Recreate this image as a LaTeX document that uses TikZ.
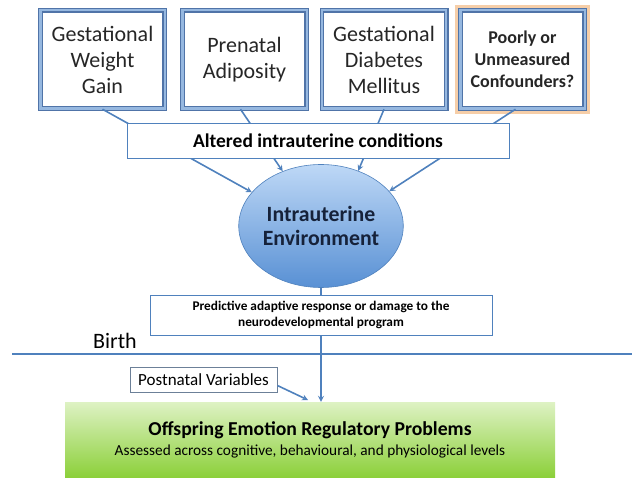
\documentclass[tikz,border=0pt]{standalone}
\usepackage{fontspec}
\setmainfont{Carlito}
\usetikzlibrary{shapes, shapes.geometric, arrows, positioning}

\definecolor{lineblue}{RGB}{79,129,189}
\definecolor{frameblue}{RGB}{80,116,168}
\definecolor{frameinner}{RGB}{150,184,224}
\definecolor{glow}{RGB}{246,206,168}
\definecolor{navy}{RGB}{22,34,58}
\definecolor{greentop}{RGB}{222,242,196}
\definecolor{greenbot}{RGB}{140,208,58}
\definecolor{balltop}{RGB}{190,216,246}
\definecolor{ballbot}{RGB}{88,144,212}

\begin{document}
\begin{tikzpicture}[x=1pt, y=-1pt,
  factor/.style={rectangle, draw=frameblue, double=frameinner, double distance=2.4pt,
    line width=1.1pt, fill=white, minimum width=124.4pt, minimum height=98.4pt,
    align=center, text=black!85, font=\fontsize{22}{26}\selectfont},
  glowing/.style={preaction={draw=glow, line width=10pt}},
  bar/.style={rectangle, draw=lineblue, line width=0.8pt, fill=white, align=center,
    inner sep=2pt},
  env/.style={ellipse, draw=lineblue, line width=0.6pt, top color=balltop,
    bottom color=ballbot, minimum width=158pt, minimum height=123pt, inner sep=0pt,
    align=center, text=navy, font=\bfseries\fontsize{21.8}{24}\selectfont},
  outcome/.style={rectangle, top color=greentop, bottom color=greenbot,
    minimum width=490pt, minimum height=75pt, align=center},
  link/.style={draw=lineblue, line width=1.6pt, -stealth}]

  \useasboundingbox (0,0) rectangle (632,478);

  % the four factors
  \node[factor] (gwg) at (102.5,59.5) {Gestational\\Weight\\Gain};
  \node[factor] (pa) at (244.5,59.5) {Prenatal\\Adiposity};
  \node[factor] (gdm) at (384,59.5) {Gestational\\Diabetes\\Mellitus};
  \node[factor, glowing, font=\bfseries\fontsize{18}{22}\selectfont] (puc) at (522.5,59.5)
    {Poorly or\\Unmeasured\\Confounders?};

  \node[env] (env) at (321,226) {Intrauterine\\Environment};

  \draw[link] (gwg.south) -- (env.154);
  \draw[link] ([xshift=-4pt]pa.south) -- (env.125);
  \draw[link] (gdm.south) -- (env.56);
  \draw[link] ([xshift=-7pt]puc.south) -- (env.27);

  \node[bar, minimum width=382pt, minimum height=35pt,
    font=\bfseries\fontsize{19.5}{22}\selectfont] (alt) at (318,140.5)
    {Altered intrauterine conditions};

  \node[bar, minimum width=342pt, minimum height=40pt,
    font=\bfseries\fontsize{13.3}{16}\selectfont] (pred) at (321,315)
    {Predictive adaptive response or damage to the\\neurodevelopmental program};
  \draw[draw=lineblue, line width=1.4pt] (env.south) -- (pred.north);

  % birth
  \node[font=\fontsize{22}{22}\selectfont] (birth) at (115,341) {Birth};
  \coordinate (bl) at (12,354);
  \coordinate (br) at (632,354);
  \draw[draw=lineblue, line width=1.6pt] (bl) -- (br);

  \node[outcome, font=\fontsize{15.3}{20}\selectfont] (offs) at (310,439.5)
    {{\bfseries\fontsize{19.7}{20}\selectfont Offspring Emotion Regulatory Problems}\\
     Assessed across cognitive, behavioural, and physiological levels};

  \node[bar, draw=gray!60!lineblue, minimum width=147pt, minimum height=25pt,
    font=\fontsize{17}{18}\selectfont] (post) at (203.5,379.5) {Postnatal Variables};

  \draw[link] (pred.south) -- (pred.south |- offs.north);
  \coordinate (postend) at (308,400);
  \draw[link] ([yshift=-6pt]post.east) -- (postend);
\end{tikzpicture}
\end{document}
